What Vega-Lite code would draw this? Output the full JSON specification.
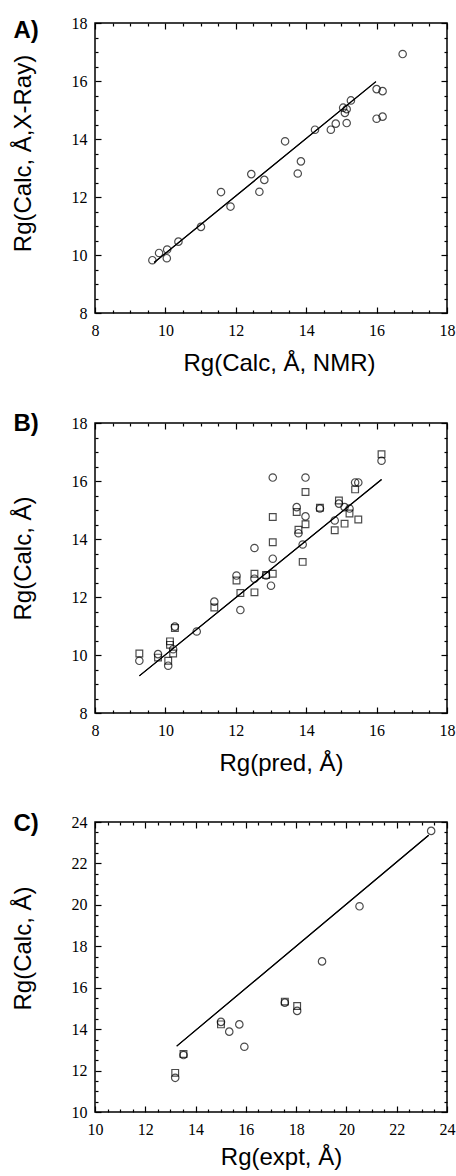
{
"$schema": "https://vega.github.io/schema/vega-lite/v6.json",
"background": "white",
"padding": {"left": 10, "top": 14, "right": 0, "bottom": 0},
"spacing": 34,
"datasets": {
"A": [
{"x":9.63,"y":9.82,"kind":"circle"},{"x":9.82,"y":10.07,"kind":"circle"},{"x":10.05,"y":10.19,"kind":"circle"},{"x":10.04,"y":9.89,"kind":"circle"},{"x":10.37,"y":10.46,"kind":"circle"},{"x":11.01,"y":10.97,"kind":"circle"},{"x":11.58,"y":12.17,"kind":"circle"},{"x":11.85,"y":11.67,"kind":"circle"},{"x":12.44,"y":12.79,"kind":"circle"},{"x":12.67,"y":12.18,"kind":"circle"},{"x":12.81,"y":12.59,"kind":"circle"},{"x":13.40,"y":13.92,"kind":"circle"},{"x":13.76,"y":12.81,"kind":"circle"},{"x":13.85,"y":13.23,"kind":"circle"},{"x":14.25,"y":14.32,"kind":"circle"},{"x":14.70,"y":14.32,"kind":"circle"},{"x":14.84,"y":14.53,"kind":"circle"},{"x":15.15,"y":14.55,"kind":"circle"},{"x":15.10,"y":14.90,"kind":"circle"},{"x":15.15,"y":15.03,"kind":"circle"},{"x":15.05,"y":15.08,"kind":"circle"},{"x":15.27,"y":15.33,"kind":"circle"},{"x":16.0,"y":15.72,"kind":"circle"},{"x":16.17,"y":15.65,"kind":"circle"},{"x":16.0,"y":14.70,"kind":"circle"},{"x":16.17,"y":14.77,"kind":"circle"},{"x":16.74,"y":16.93,"kind":"circle"},
{"x":9.68,"y":9.74,"kind":"fit"},{"x":15.98,"y":15.98,"kind":"fit"}
],
"B": [
{"x":9.26,"y":9.80,"kind":"circle"},{"x":9.79,"y":10.03,"kind":"circle"},{"x":10.08,"y":9.63,"kind":"circle"},{"x":10.22,"y":10.20,"kind":"circle"},{"x":10.27,"y":10.98,"kind":"circle"},{"x":10.89,"y":10.81,"kind":"circle"},{"x":11.39,"y":11.84,"kind":"circle"},{"x":12.13,"y":11.55,"kind":"circle"},{"x":12.02,"y":12.74,"kind":"circle"},{"x":12.53,"y":13.69,"kind":"circle"},{"x":12.53,"y":12.63,"kind":"circle"},{"x":12.86,"y":12.74,"kind":"circle"},{"x":13.05,"y":13.32,"kind":"circle"},{"x":13.0,"y":12.39,"kind":"circle"},{"x":13.05,"y":16.12,"kind":"circle"},{"x":13.73,"y":15.10,"kind":"circle"},{"x":13.78,"y":14.20,"kind":"circle"},{"x":13.90,"y":13.81,"kind":"circle"},{"x":13.98,"y":16.12,"kind":"circle"},{"x":13.98,"y":14.78,"kind":"circle"},{"x":14.39,"y":15.05,"kind":"circle"},{"x":14.81,"y":14.64,"kind":"circle"},{"x":14.93,"y":15.22,"kind":"circle"},{"x":15.09,"y":15.10,"kind":"circle"},{"x":15.23,"y":15.05,"kind":"circle"},{"x":15.39,"y":15.95,"kind":"circle"},{"x":15.48,"y":15.95,"kind":"circle"},{"x":16.14,"y":16.70,"kind":"circle"},
{"x":9.26,"y":10.05,"kind":"square"},{"x":9.79,"y":9.91,"kind":"square"},{"x":10.13,"y":10.47,"kind":"square"},{"x":10.13,"y":10.35,"kind":"square"},{"x":10.08,"y":9.80,"kind":"square"},{"x":10.22,"y":10.05,"kind":"square"},{"x":10.27,"y":10.93,"kind":"square"},{"x":11.39,"y":11.64,"kind":"square"},{"x":12.13,"y":12.14,"kind":"square"},{"x":12.02,"y":12.57,"kind":"square"},{"x":12.53,"y":12.80,"kind":"square"},{"x":12.53,"y":12.16,"kind":"square"},{"x":12.86,"y":12.76,"kind":"square"},{"x":13.05,"y":12.80,"kind":"square"},{"x":13.05,"y":13.89,"kind":"square"},{"x":13.05,"y":14.76,"kind":"square"},{"x":13.73,"y":14.93,"kind":"square"},{"x":13.78,"y":14.32,"kind":"square"},{"x":13.90,"y":13.21,"kind":"square"},{"x":13.98,"y":15.62,"kind":"square"},{"x":13.98,"y":14.51,"kind":"square"},{"x":14.39,"y":15.08,"kind":"square"},{"x":14.81,"y":14.30,"kind":"square"},{"x":14.93,"y":15.33,"kind":"square"},{"x":15.09,"y":14.53,"kind":"square"},{"x":15.23,"y":14.88,"kind":"square"},{"x":15.39,"y":15.71,"kind":"square"},{"x":15.48,"y":14.67,"kind":"square"},{"x":16.14,"y":16.92,"kind":"square"},
{"x":9.26,"y":9.28,"kind":"fit"},{"x":16.14,"y":16.05,"kind":"fit"}
],
"C": [
{"x":13.19,"y":11.65,"kind":"circle"},{"x":13.52,"y":12.75,"kind":"circle"},{"x":15.01,"y":14.35,"kind":"circle"},{"x":15.34,"y":13.88,"kind":"circle"},{"x":15.74,"y":14.23,"kind":"circle"},{"x":15.94,"y":13.15,"kind":"circle"},{"x":17.55,"y":15.28,"kind":"circle"},{"x":18.04,"y":14.88,"kind":"circle"},{"x":19.03,"y":17.27,"kind":"circle"},{"x":20.52,"y":19.93,"kind":"circle"},{"x":23.37,"y":23.57,"kind":"circle"},
{"x":13.19,"y":11.89,"kind":"square"},{"x":13.52,"y":12.80,"kind":"square"},{"x":15.01,"y":14.23,"kind":"square"},{"x":17.55,"y":15.33,"kind":"square"},{"x":18.04,"y":15.12,"kind":"square"},
{"x":13.25,"y":13.18,"kind":"fit"},{"x":23.27,"y":23.36,"kind":"fit"}
]
},
"vconcat": [
{
"width": 352, "height": 290,
"data": {"name": "A"},
"layer": [
{"transform": [{"filter": "datum.kind === 'circle'"}],
 "mark": {"type": "point", "shape": "circle", "filled": false, "color": "black", "size": 55, "strokeWidth": 1.2},
 "encoding": {
  "x": {"field": "x", "type": "quantitative", "scale": {"domain": [8, 18], "nice": false, "zero": false}, "axis": {"orient": "bottom", "values": [8,10,12,14,16,18], "tickSize": -6, "labelPadding": 15, "title": "Rg(Calc, Å, NMR)", "titleX": 184, "titleY": 57, "titleAlign": "center", "titleBaseline": "alphabetic"}},
  "y": {"field": "y", "type": "quantitative", "scale": {"domain": [8, 18], "nice": false, "zero": false}, "axis": {"orient": "left", "values": [8,10,12,14,16,18], "tickSize": -6, "labelPadding": 14, "title": "Rg(Calc, Å,X-Ray)", "titleX": -65, "titleY": 130, "titleAngle": 270, "titleAlign": "center", "titleBaseline": "alphabetic"}}
 }},
{"transform": [{"filter": "datum.kind === 'square'"}],
 "mark": {"type": "point", "shape": "square", "filled": false, "color": "black", "size": 45, "strokeWidth": 1.2},
 "encoding": {
  "x": {"field": "x", "type": "quantitative", "scale": {"domain": [8, 18], "nice": false, "zero": false}, "axis": {"orient": "bottom", "values": [8.5,9,9.5,10.5,11,11.5,12.5,13,13.5,14.5,15,15.5,16.5,17,17.5], "tickSize": -3, "labels": false, "title": null}},
  "y": {"field": "y", "type": "quantitative", "scale": {"domain": [8, 18], "nice": false, "zero": false}, "axis": {"orient": "left", "values": [8.5,9,9.5,10.5,11,11.5,12.5,13,13.5,14.5,15,15.5,16.5,17,17.5], "tickSize": -3, "labels": false, "title": null}}
 }},
{"transform": [{"filter": "datum.kind === 'fit'"}],
 "mark": {"type": "line", "color": "black", "strokeWidth": 1.1},
 "encoding": {
  "x": {"field": "x", "type": "quantitative", "scale": {"domain": [8, 18], "nice": false, "zero": false}, "axis": {"orient": "top", "values": [8,10,12,14,16,18], "tickSize": -6, "labels": false, "title": "A)", "titleX": -82, "titleY": 14, "titleAlign": "left", "titleBaseline": "alphabetic", "titleAngle": 0, "titleFontWeight": "bold"}},
  "y": {"field": "y", "type": "quantitative", "scale": {"domain": [8, 18], "nice": false, "zero": false}, "axis": {"orient": "right", "values": [8,10,12,14,16,18], "tickSize": -6, "labels": false, "title": null}}
 }},
{"transform": [{"filter": "datum.kind === 'fit'"}],
 "mark": {"type": "line", "color": "black", "strokeWidth": 1.1},
 "encoding": {
  "x": {"field": "x", "type": "quantitative", "scale": {"domain": [8, 18], "nice": false, "zero": false}, "axis": {"orient": "top", "values": [8.5,9,9.5,10.5,11,11.5,12.5,13,13.5,14.5,15,15.5,16.5,17,17.5], "tickSize": -3, "labels": false, "title": null}},
  "y": {"field": "y", "type": "quantitative", "scale": {"domain": [8, 18], "nice": false, "zero": false}, "axis": {"orient": "right", "values": [8.5,9,9.5,10.5,11,11.5,12.5,13,13.5,14.5,15,15.5,16.5,17,17.5], "tickSize": -3, "labels": false, "title": null}}
 }}
],
"resolve": {"axis": {"x": "independent", "y": "independent"}}
},
{
"width": 352, "height": 290,
"data": {"name": "B"},
"layer": [
{"transform": [{"filter": "datum.kind === 'circle'"}],
 "mark": {"type": "point", "shape": "circle", "filled": false, "color": "black", "size": 55, "strokeWidth": 1.2},
 "encoding": {
  "x": {"field": "x", "type": "quantitative", "scale": {"domain": [8, 18], "nice": false, "zero": false}, "axis": {"orient": "bottom", "values": [8,10,12,14,16,18], "tickSize": -6, "labelPadding": 15, "title": "Rg(pred, Å)", "titleX": 186, "titleY": 57, "titleAlign": "center", "titleBaseline": "alphabetic"}},
  "y": {"field": "y", "type": "quantitative", "scale": {"domain": [8, 18], "nice": false, "zero": false}, "axis": {"orient": "left", "values": [8,10,12,14,16,18], "tickSize": -6, "labelPadding": 14, "title": "Rg(Calc, Å)", "titleX": -65, "titleY": 135, "titleAngle": 270, "titleAlign": "center", "titleBaseline": "alphabetic"}}
 }},
{"transform": [{"filter": "datum.kind === 'square'"}],
 "mark": {"type": "point", "shape": "square", "filled": false, "color": "black", "size": 45, "strokeWidth": 1.2},
 "encoding": {
  "x": {"field": "x", "type": "quantitative", "scale": {"domain": [8, 18], "nice": false, "zero": false}, "axis": {"orient": "bottom", "values": [8.5,9,9.5,10.5,11,11.5,12.5,13,13.5,14.5,15,15.5,16.5,17,17.5], "tickSize": -3, "labels": false, "title": null}},
  "y": {"field": "y", "type": "quantitative", "scale": {"domain": [8, 18], "nice": false, "zero": false}, "axis": {"orient": "left", "values": [8.5,9,9.5,10.5,11,11.5,12.5,13,13.5,14.5,15,15.5,16.5,17,17.5], "tickSize": -3, "labels": false, "title": null}}
 }},
{"transform": [{"filter": "datum.kind === 'fit'"}],
 "mark": {"type": "line", "color": "black", "strokeWidth": 1.1},
 "encoding": {
  "x": {"field": "x", "type": "quantitative", "scale": {"domain": [8, 18], "nice": false, "zero": false}, "axis": {"orient": "top", "values": [8,10,12,14,16,18], "tickSize": -6, "labels": false, "title": "B)", "titleX": -82, "titleY": 7, "titleAlign": "left", "titleBaseline": "alphabetic", "titleAngle": 0, "titleFontWeight": "bold"}},
  "y": {"field": "y", "type": "quantitative", "scale": {"domain": [8, 18], "nice": false, "zero": false}, "axis": {"orient": "right", "values": [8,10,12,14,16,18], "tickSize": -6, "labels": false, "title": null}}
 }},
{"transform": [{"filter": "datum.kind === 'fit'"}],
 "mark": {"type": "line", "color": "black", "strokeWidth": 1.1},
 "encoding": {
  "x": {"field": "x", "type": "quantitative", "scale": {"domain": [8, 18], "nice": false, "zero": false}, "axis": {"orient": "top", "values": [8.5,9,9.5,10.5,11,11.5,12.5,13,13.5,14.5,15,15.5,16.5,17,17.5], "tickSize": -3, "labels": false, "title": null}},
  "y": {"field": "y", "type": "quantitative", "scale": {"domain": [8, 18], "nice": false, "zero": false}, "axis": {"orient": "right", "values": [8.5,9,9.5,10.5,11,11.5,12.5,13,13.5,14.5,15,15.5,16.5,17,17.5], "tickSize": -3, "labels": false, "title": null}}
 }}
],
"resolve": {"axis": {"x": "independent", "y": "independent"}}
},
{
"width": 352, "height": 290,
"data": {"name": "C"},
"layer": [
{"transform": [{"filter": "datum.kind === 'circle'"}],
 "mark": {"type": "point", "shape": "circle", "filled": false, "color": "black", "size": 55, "strokeWidth": 1.2},
 "encoding": {
  "x": {"field": "x", "type": "quantitative", "scale": {"domain": [10, 24], "nice": false, "zero": false}, "axis": {"orient": "bottom", "values": [10,12,14,16,18,20,22,24], "tickSize": -6, "labelPadding": 15, "title": "Rg(expt, Å)", "titleX": 186, "titleY": 52, "titleAlign": "center", "titleBaseline": "alphabetic"}},
  "y": {"field": "y", "type": "quantitative", "scale": {"domain": [10, 24], "nice": false, "zero": false}, "axis": {"orient": "left", "values": [10,12,14,16,18,20,22,24], "tickSize": -6, "labelPadding": 14, "title": "Rg(Calc, Å)", "titleX": -65, "titleY": 126, "titleAngle": 270, "titleAlign": "center", "titleBaseline": "alphabetic"}}
 }},
{"transform": [{"filter": "datum.kind === 'square'"}],
 "mark": {"type": "point", "shape": "square", "filled": false, "color": "black", "size": 45, "strokeWidth": 1.2},
 "encoding": {
  "x": {"field": "x", "type": "quantitative", "scale": {"domain": [10, 24], "nice": false, "zero": false}, "axis": {"orient": "bottom", "values": [10.5,11,11.5,12.5,13,13.5,14.5,15,15.5,16.5,17,17.5,18.5,19,19.5,20.5,21,21.5,22.5,23,23.5], "tickSize": -3, "labels": false, "title": null}},
  "y": {"field": "y", "type": "quantitative", "scale": {"domain": [10, 24], "nice": false, "zero": false}, "axis": {"orient": "left", "values": [10.5,11,11.5,12.5,13,13.5,14.5,15,15.5,16.5,17,17.5,18.5,19,19.5,20.5,21,21.5,22.5,23,23.5], "tickSize": -3, "labels": false, "title": null}}
 }},
{"transform": [{"filter": "datum.kind === 'fit'"}],
 "mark": {"type": "line", "color": "black", "strokeWidth": 1.1},
 "encoding": {
  "x": {"field": "x", "type": "quantitative", "scale": {"domain": [10, 24], "nice": false, "zero": false}, "axis": {"orient": "top", "values": [10,12,14,16,18,20,22,24], "tickSize": -6, "labels": false, "title": "C)", "titleX": -82, "titleY": 8, "titleAlign": "left", "titleBaseline": "alphabetic", "titleAngle": 0, "titleFontWeight": "bold"}},
  "y": {"field": "y", "type": "quantitative", "scale": {"domain": [10, 24], "nice": false, "zero": false}, "axis": {"orient": "right", "values": [10,12,14,16,18,20,22,24], "tickSize": -6, "labels": false, "title": null}}
 }},
{"transform": [{"filter": "datum.kind === 'fit'"}],
 "mark": {"type": "line", "color": "black", "strokeWidth": 1.1},
 "encoding": {
  "x": {"field": "x", "type": "quantitative", "scale": {"domain": [10, 24], "nice": false, "zero": false}, "axis": {"orient": "top", "values": [10.5,11,11.5,12.5,13,13.5,14.5,15,15.5,16.5,17,17.5,18.5,19,19.5,20.5,21,21.5,22.5,23,23.5], "tickSize": -3, "labels": false, "title": null}},
  "y": {"field": "y", "type": "quantitative", "scale": {"domain": [10, 24], "nice": false, "zero": false}, "axis": {"orient": "right", "values": [10.5,11,11.5,12.5,13,13.5,14.5,15,15.5,16.5,17,17.5,18.5,19,19.5,20.5,21,21.5,22.5,23,23.5], "tickSize": -3, "labels": false, "title": null}}
 }}
],
"resolve": {"axis": {"x": "independent", "y": "independent"}}
}
],
"config": {
 "view": {"stroke": "black", "strokeWidth": 1.5},
 "axis": {"domain": false, "grid": false, "tickColor": "black", "tickWidth": 1.2, "labelFont": "Liberation Serif", "labelFontSize": 16, "labelColor": "black", "labelOverlap": false, "labelFlush": false, "titleFont": "Liberation Sans", "titleFontSize": 24, "titleFontWeight": "normal", "titleColor": "black"}
}
}
